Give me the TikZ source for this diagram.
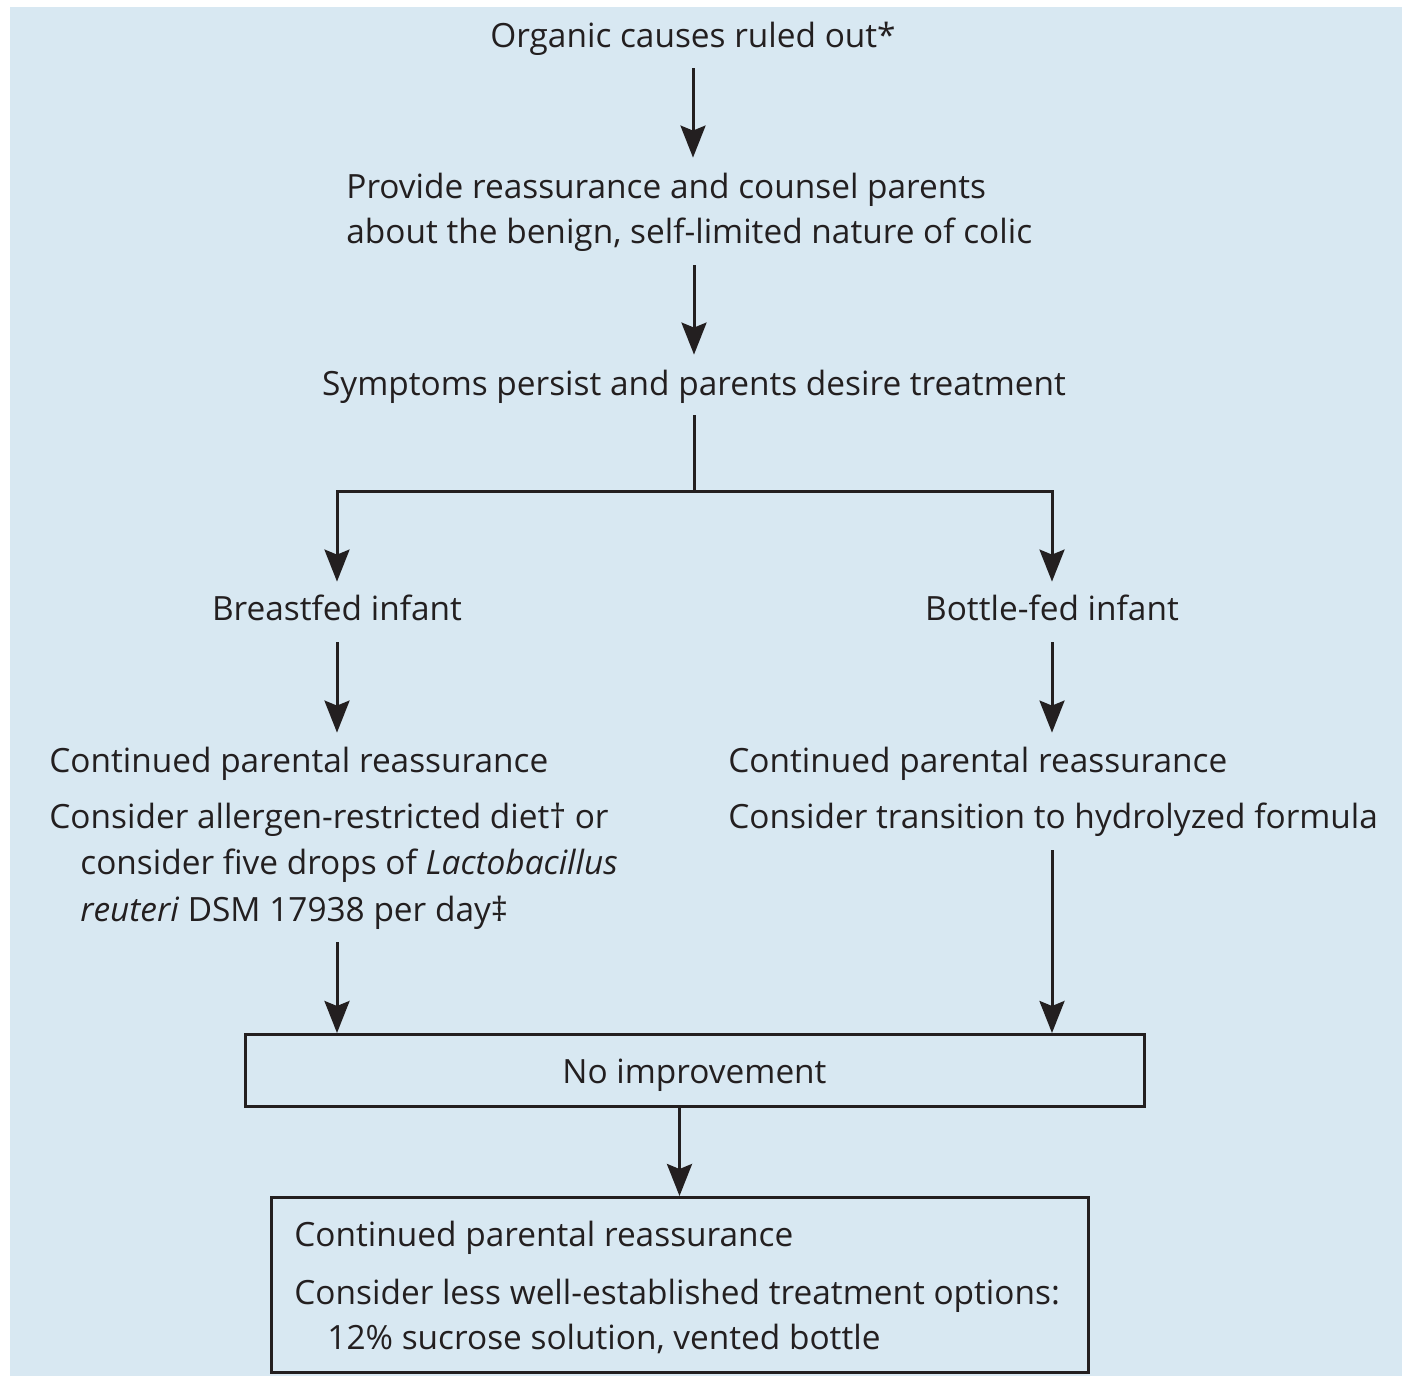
\documentclass[tikz,border=0pt]{standalone}
\usepackage{fontspec}
\setmainfont{Open Sans}
\usepackage{tikz}
\usetikzlibrary{arrows.meta}
\definecolor{panel}{RGB}{216,232,242}
\definecolor{ink}{RGB}{35,31,32}
\tikzset{
  txt/.style={inner sep=0pt, text height=12pt, text depth=4pt, text=ink},
  arr/.style={draw=ink, line width=1.5pt, -{Stealth[length=16pt, width=12.5pt, inset=2.5pt]}},
  plain/.style={draw=ink, line width=1.5pt},
  box/.style={draw=ink, line width=1.5pt, inner sep=0pt}
}
\begin{document}
\begin{tikzpicture}[x=0.5pt, y=-0.5pt, font=\fontsize{16.7}{20}\selectfont]
      \useasboundingbox (0,0) rectangle (1409,1376);
      \fill[panel] (10,7) rectangle (1402,1376);

      % write top steps
      \node[txt, anchor=base] (organic) at (693,47) {Organic causes ruled out*};
      \node[txt, anchor=base west] (provide1) at (346,198) {Provide reassurance and counsel parents};
      \node[txt, anchor=base west] (provide2) at (346,243) {about the benign, self-limited nature of colic};
      \node[txt, anchor=base] (symptoms) at (694,395) {Symptoms persist and parents desire treatment};

      % write breastfed, bottle-fed
      \node[txt, anchor=base] (breastfed) at (337,620) {Breastfed infant};
      \node[txt, anchor=base] (bottlefed) at (1052,620) {Bottle-fed infant};

      % left block
      \node[txt, anchor=base west] (contL) at (49,772) {Continued parental reassurance};
      \node[txt, anchor=base west] (diet) at (49,828) {Consider allergen-restricted diet† or};
      \node[txt, anchor=base west] (drops) at (80,874) {consider five drops of \textit{Lactobacillus}};
      \node[txt, anchor=base west] (reuteri) at (80,921) {\textit{reuteri} DSM 17938 per day‡};

      % right block
      \node[txt, anchor=base west] (contR) at (728,772) {Continued parental reassurance};
      \node[txt, anchor=base west] (hydro) at (728,828) {Consider transition to hydrolyzed formula};

      % boxes
      \node[box, txt, text height=12.5pt, text depth=0pt, minimum width=449.5pt, minimum height=36pt] (noimp) at (694.5,1070.5) {No improvement};
      \node[box, minimum width=408.5pt, minimum height=87.5pt] (final) at (679.5,1285) {};
      \node[txt, anchor=base west] (contF) at (294,1246) {Continued parental reassurance};
      \node[txt, anchor=base west] (less) at (294,1304) {Consider less well-established treatment options:};
      \node[txt, anchor=base west] (sucrose) at (327,1349) {12\% sucrose solution, vented bottle};

      % split point
      \coordinate (split) at (694,491);

      % arrows down the middle
      \draw[arr, shorten <=6.5pt, shorten >=8pt] (organic.south) -- (organic.south |- provide1.north);
      \draw[arr, shorten <=7pt, shorten >=8pt] (symptoms.north |- provide2.south) -- (symptoms.north);
      \draw[plain, shorten <=6pt] (symptoms.south) -- (split);
      \draw[arr, shorten >=7pt] (split) -| (breastfed.north);
      \draw[arr, shorten >=7pt] (split) -| (bottlefed.north);

      % arrows in the two branches
      \draw[arr, shorten <=7pt, shorten >=7.5pt] (breastfed.south) -- (breastfed.south |- contL.north);
      \draw[arr, shorten <=7pt, shorten >=7.5pt] (bottlefed.south) -- (bottlefed.south |- contR.north);
      \draw[arr, shorten <=6.5pt] (breastfed.south |- reuteri.south) -- (breastfed.south |- noimp.north);
      \draw[arr, shorten <=7pt] (bottlefed.south |- hydro.south) -- (bottlefed.south |- noimp.north);

      % last arrow
      \draw[arr] (noimp.south -| final.north) -- (final.north);
    \end{tikzpicture}
\end{document}
